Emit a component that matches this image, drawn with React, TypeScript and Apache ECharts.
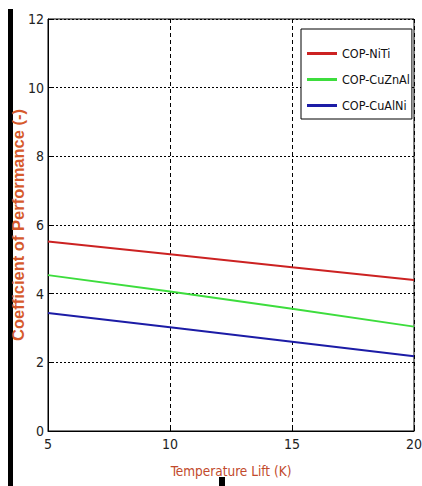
import React, { useEffect, useRef } from "react";
import * as echarts from "echarts";

const xValues = [5, 10, 15, 20];
const copNiTi = [5.52, 5.15, 4.77, 4.4];
const copCuZnAl = [4.54, 4.06, 3.56, 3.04];
const copCuAlNi = [3.44, 3.02, 2.6, 2.18];
const seriesNames = ["COP-NiTi", "COP-CuZnAl", "COP-CuAlNi"];
const seriesColors = ["#cc2222", "#3ddd3d", "#1c1ca6"];

const NARROW = "'Liberation Sans Narrow', 'Arial Narrow', 'DejaVu Sans Condensed', sans-serif";

export default function App() {
  const ref = useRef<HTMLDivElement>(null);
  useEffect(() => {
    if (!ref.current) return;
    const chart = echarts.init(ref.current, undefined, { renderer: "svg" });
    const data = [copNiTi, copCuZnAl, copCuAlNi];
    chart.setOption({
      animation: false,
      backgroundColor: "#fff",
      grid: {
        left: 48,
        right: 8,
        top: 19,
        bottom: 55,
        show: true,
        borderColor: "#000",
        borderWidth: 1,
        outerBoundsMode: "none",
        containLabel: false,
      },
      legend: {
        orient: "vertical",
        left: 301,
        top: 29,
        data: seriesNames,
        icon: "rect",
        itemWidth: 30,
        itemHeight: 3,
        itemGap: 13,
        padding: [18, 2, 7, 6],
        borderColor: "#000",
        borderWidth: 1,
        backgroundColor: "#fff",
        textStyle: { fontFamily: NARROW, fontSize: 12.5, color: "#111" },
      },
      xAxis: {
        type: "value",
        min: 5,
        max: 20,
        interval: 5,
        name: "Temperature Lift (K)",
        nameLocation: "middle",
        nameGap: 33,
        nameMoveOverlap: false,
        nameTextStyle: { fontFamily: NARROW, fontSize: 13.5, color: "#c24a2c" },
        axisLine: { show: true, lineStyle: { color: "#000", width: 1 } },
        axisTick: { show: true, inside: true, length: 4, lineStyle: { color: "#000" } },
        axisLabel: { fontFamily: NARROW, fontSize: 14, color: "#222", margin: 6 },
        splitLine: { show: true, lineStyle: { color: "#000", type: [4, 3], width: 1 } },
      },
      yAxis: {
        type: "value",
        min: 0,
        max: 12,
        interval: 2,
        name: "Coefficient of Performance (-)",
        nameLocation: "middle",
        nameGap: 22,
        nameMoveOverlap: false,
        nameTextStyle: { fontFamily: "Arial, 'Liberation Sans', sans-serif", fontWeight: "bold", fontSize: 16.5, color: "#d65a2c" },
        axisLine: { show: true, lineStyle: { color: "#000", width: 1 } },
        axisTick: { show: true, inside: true, length: 4, lineStyle: { color: "#000" } },
        axisLabel: { fontFamily: NARROW, fontSize: 14, color: "#222", margin: 4 },
        splitLine: { show: true, lineStyle: { color: "#000", type: [2, 2], width: 1 } },
      },
      series: seriesNames.map((name, i) => ({
        name,
        type: "line",
        showSymbol: false,
        symbol: "none",
        data: xValues.map((x, j) => [x, data[i][j]]),
        lineStyle: { color: seriesColors[i], width: 2 },
        itemStyle: { color: seriesColors[i] },
      })),
      graphic: [
        { type: "rect", left: 8, top: 9, shape: { width: 5, height: 477 }, style: { fill: "#000" } },
        { type: "rect", left: 219, top: 477, shape: { width: 6, height: 9 }, style: { fill: "#000" } },
      ],
    });
    return () => chart.dispose();
  }, []);
  return (
    <div
      ref={ref}
      style={{ position: "fixed", left: 0, top: 0, width: 422, height: 486, background: "#fff" }}
    />
  );
}
